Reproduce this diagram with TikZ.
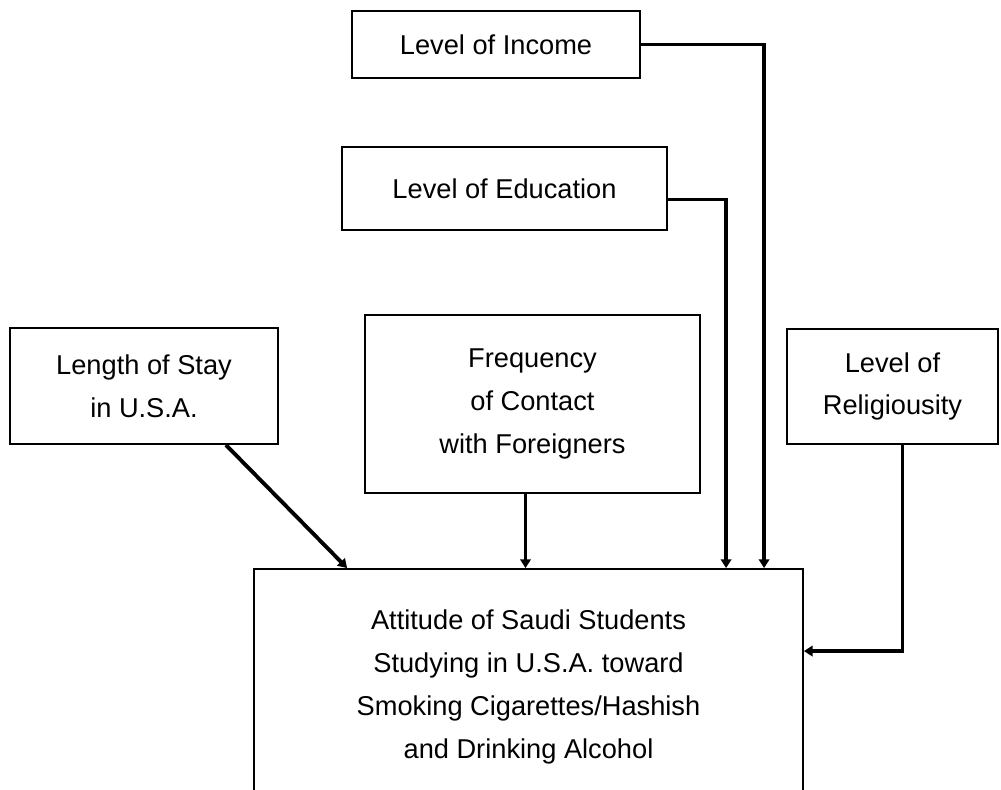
\documentclass[tikz,border=0pt]{standalone}
\usepackage{fontspec}
\setmainfont{Liberation Sans}
\usetikzlibrary{arrows.meta,calc}

\begin{document}
\begin{tikzpicture}[x=0.02cm,y=-0.02cm]
\tikzstyle{every node}+=[inner sep=0pt]
\tikzstyle{factor}=[draw=black, line width=1.1pt, align=center, font=\fontsize{15.5}{24.4}\selectfont]
\tikzstyle{link}=[draw=black, line width=2.2pt, -{Triangle[width=6pt,length=5pt]}]
\clip (0,0) rectangle (1001,790);
% the factors
\node [factor, minimum width=5.76cm, minimum height=1.34cm] (income) at (496,44.5) {Level of Income};
\node [factor, minimum width=6.5cm, minimum height=1.66cm] (edu) at (504.5,188.5) {Level of Education};
\node [factor, minimum width=5.36cm, minimum height=2.32cm] (stay) at (144,386) {Length of Stay\\in U.S.A.};
\node [factor, minimum width=6.7cm, minimum height=3.56cm] (contact) at (532.5,404) {Frequency\\of Contact\\with Foreigners};
\node [factor, minimum width=4.22cm, minimum height=2.3cm] (relig) at (892.5,386.5) {Level of\\Religiousity};
\node [factor, minimum width=10.98cm, minimum height=4.72cm] (attitude) at (528.5,687) {Attitude of Saudi Students\\Studying in U.S.A. toward\\Smoking Cigarettes/Hashish\\and Drinking Alcohol};
% the links
\coordinate (contact-out) at ($(contact.south)+(-7,0)$);
\draw [link] (income.east) -| ($(attitude.north west)+(511,0)$);
\draw [link] ($(edu.east)+(0,11)$) -| ($(attitude.north west)+(473,0)$);
\draw [link] ($(stay.south east)+(-53,0)$) -- ($(attitude.north west)+(94,0)$);
\draw [link, line width=1.6pt] (contact-out) -- (contact-out |- attitude.north);
\draw [link] ($(relig.south)+(10,0)$) |- ($(attitude.north east)+(0,83)$);
\end{tikzpicture}
\end{document}
